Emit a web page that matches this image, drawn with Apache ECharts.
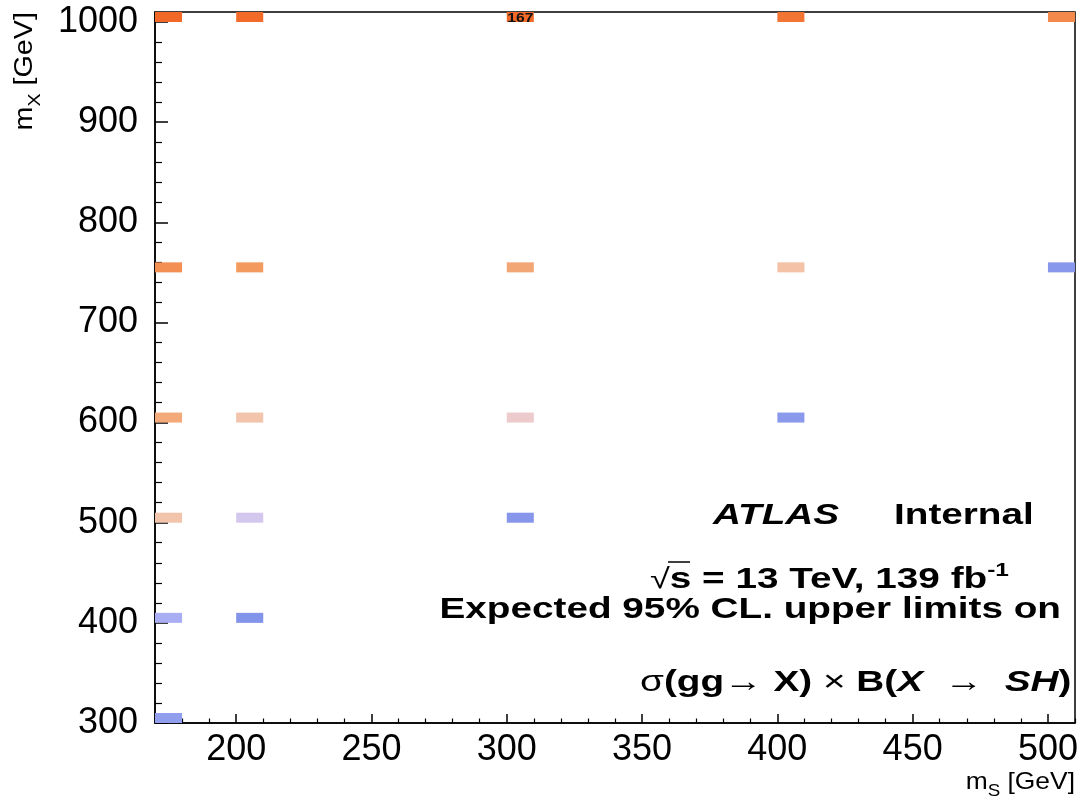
<!DOCTYPE html>
<html>
<head>
<meta charset="utf-8">
<script src="https://cdn.jsdelivr.net/npm/echarts@6/dist/echarts.min.js"></script>
<style>
html,body{margin:0;padding:0;background:#fff;}
#chart{width:1081px;height:800px;}
</style>
</head>
<body>
<div id="chart"></div>
<script>
// ---- data ----
const mS = [170, 200, 300, 400, 500];            // x bins (GeV)
const mX = [300, 400, 500, 600, 750, 1000];      // y bins (GeV)
// expected limits (arbitrary units), one row per mX, one column per mS; null = no point
const limits_mX300  = [15,  null, null, null, null];
const limits_mX400  = [34,  3,    null, null, null];
const limits_mX500  = [102, 58,   7,    null, null];
const limits_mX600  = [124, 102,  85,   10,   null];
const limits_mX750  = [143, 136,  126,  104,  8];
const limits_mX1000 = [168, 166,  167,  160,  146];
const labelledCells = [[300, 1000]];             // cells whose value is printed
const xTicks = [200, 250, 300, 350, 400, 450, 500];
const yTicks = [300, 400, 500, 600, 700, 800, 900, 1000];

const rows = [limits_mX300, limits_mX400, limits_mX500, limits_mX600, limits_mX750, limits_mX1000];
const data = [];
rows.forEach((row, j) => row.forEach((v, i) => { if (v !== null) data.push([mS[i], mX[j], v]); }));

const BIN = 10;
const xMinor = [], yMinor = [];
for (let v = 170; v <= 510; v += 10) if (xTicks.indexOf(v) < 0) xMinor.push(v);
for (let v = 300; v <= 1010; v += 20) if (yTicks.indexOf(v) < 0) yMinor.push(v);

const FONT = '"Liberation Sans", Arial, Helvetica, sans-serif';
const SX = 1.29; // horizontal stretch of the ROOT text
const chart = echarts.init(document.getElementById('chart'));

const option = {
  backgroundColor: '#fff',
  animation: false,
  grid: { left: 155, right: 6, top: 12, bottom: 77, show: true, borderColor: '#000', borderWidth: 1.5, backgroundColor: 'transparent' },
  visualMap: {
    show: false, type: 'continuous', dimension: 2, min: 0, max: 170, seriesIndex: 0,
    inRange: { color: ['#7E90E9', '#A9ADF3', '#E6D2EC', '#F3C4AC', '#F39A5E', '#F26522'] }
  },
  xAxis: [{
    type: 'value', min: 170, max: 510,
    axisLine: { show: true, lineStyle: { color: '#000', width: 1.5 } },
    axisTick: { show: true, inside: true, length: 9, customValues: xTicks, lineStyle: { color: '#000', width: 1.5 } },
    axisLabel: { customValues: xTicks, color: '#000', fontSize: 36, fontFamily: FONT, margin: 9, formatter: v => String(v) },
    splitLine: { show: false }
  }, {
    type: 'value', min: 170, max: 510, position: 'bottom',
    axisLine: { show: false },
    axisTick: { show: true, inside: true, length: 4.5, customValues: xMinor, lineStyle: { color: '#000', width: 1.2 } },
    axisLabel: { show: false },
    splitLine: { show: false }
  }],
  yAxis: [{
    type: 'value', min: 300, max: 1010,
    axisLine: { show: true, lineStyle: { color: '#000', width: 1.5 } },
    axisTick: { show: true, inside: true, length: 13, customValues: yTicks, lineStyle: { color: '#000', width: 1.5 } },
    axisLabel: { customValues: yTicks, color: '#000', fontSize: 36, fontFamily: FONT, margin: 17, formatter: v => String(v) },
    splitLine: { show: false }
  }, {
    type: 'value', min: 300, max: 1010, position: 'left',
    axisLine: { show: false },
    axisTick: { show: true, inside: true, length: 7, customValues: yMinor, lineStyle: { color: '#000', width: 1.2 } },
    axisLabel: { show: false },
    splitLine: { show: false }
  }],
  series: [{
    type: 'custom',
    coordinateSystem: 'cartesian2d',
    xAxisIndex: 0, yAxisIndex: 0,
    encode: { x: 0, y: 1 },
    clip: true,
    data: data,
    z: 1,
    renderItem: function (params, api) {
      const x = api.value(0), y = api.value(1), v = api.value(2);
      const p0 = api.coord([x, y]);
      const p1 = api.coord([x + BIN, y + BIN]);
      const children = [{
        type: 'rect',
        shape: { x: p0[0], y: p1[1], width: p1[0] - p0[0], height: p0[1] - p1[1] },
        style: { fill: api.visual('color') }
      }];
      if (labelledCells.some(c => c[0] === x && c[1] === y)) {
        children.push({
          type: 'text',
          x: (p0[0] + p1[0]) / 2, y: (p0[1] + p1[1]) / 2 + 1, scaleX: 1.2,
          style: {
            text: String(v), x: 0, y: 0,
            align: 'center', verticalAlign: 'middle',
            font: 'bold 13px ' + FONT, fill: '#111'
          }
        });
      }
      return { type: 'group', children: children };
    }
  }],
  graphic: [
    { type: 'text', x: 25, y: 12, rotation: Math.PI / 2, scaleX: 1.15, z: 10,
      style: { text: '{m|m}{s|X}{m| [GeV]}', align: 'right', verticalAlign: 'middle',
        rich: { m: { fontSize: 25, fontFamily: FONT, fill: '#000', verticalAlign: 'bottom' },
                s: { fontSize: 17, fontFamily: FONT, fill: '#000', verticalAlign: 'bottom', padding: [0, 0, -6, 0] } } } },
    { type: 'text', x: 1075, y: 782, scaleX: 1.1, z: 10,
      style: { text: '{m|m}{s|S}{m| [GeV]}', align: 'right', verticalAlign: 'middle',
        rich: { m: { fontSize: 24, fontFamily: FONT, fill: '#000', verticalAlign: 'bottom' },
                s: { fontSize: 17, fontFamily: FONT, fill: '#000', verticalAlign: 'bottom', padding: [0, 0, -6, 0] } } } },
    { type: 'text', x: 713, y: 516, scaleX: SX, z: 10,
      style: { text: 'ATLAS', align: 'left', verticalAlign: 'middle', font: 'italic bold 30px ' + FONT, fill: '#000' } },
    { type: 'text', x: 894, y: 516, scaleX: SX, z: 10,
      style: { text: 'Internal', align: 'left', verticalAlign: 'middle', font: 'bold 30px ' + FONT, fill: '#000' } },
    { type: 'text', x: 650, y: 580, scaleX: SX, z: 10,
      style: { text: '{r|√}{b|s = 13 TeV, 139 fb}{sup|-1}', align: 'left', verticalAlign: 'middle',
        rich: { r: { font: '28px ' + FONT, fill: '#000' },
                b: { font: 'bold 30px ' + FONT, fill: '#000' },
                sup: { font: 'bold 19px ' + FONT, fill: '#000', padding: [0, 0, 18, 0] } } } },
    { type: 'line', z: 10, shape: { x1: 668, y1: 562, x2: 690, y2: 562 }, style: { stroke: '#000', lineWidth: 1.5 } },
    { type: 'text', x: 1061, y: 610, scaleX: SX, z: 10,
      style: { text: 'Expected 95% CL. upper limits on', align: 'right', verticalAlign: 'middle', font: 'bold 30px ' + FONT, fill: '#000' } },
    { type: 'text', x: 640, y: 683, scaleX: SX, z: 10,
      style: { text: '{n|σ}{b|(gg}{n|→ }{b|X) }{n|× }{b|B(}{i|X}{n|  →  }{i|SH}{b|)}', align: 'left', verticalAlign: 'middle',
        rich: { n: { font: '30px ' + FONT, fill: '#000' },
                b: { font: 'bold 30px ' + FONT, fill: '#000' },
                i: { font: 'italic bold 30px ' + FONT, fill: '#000' } } } }
  ]
};
chart.setOption(option);
</script>
</body>
</html>
